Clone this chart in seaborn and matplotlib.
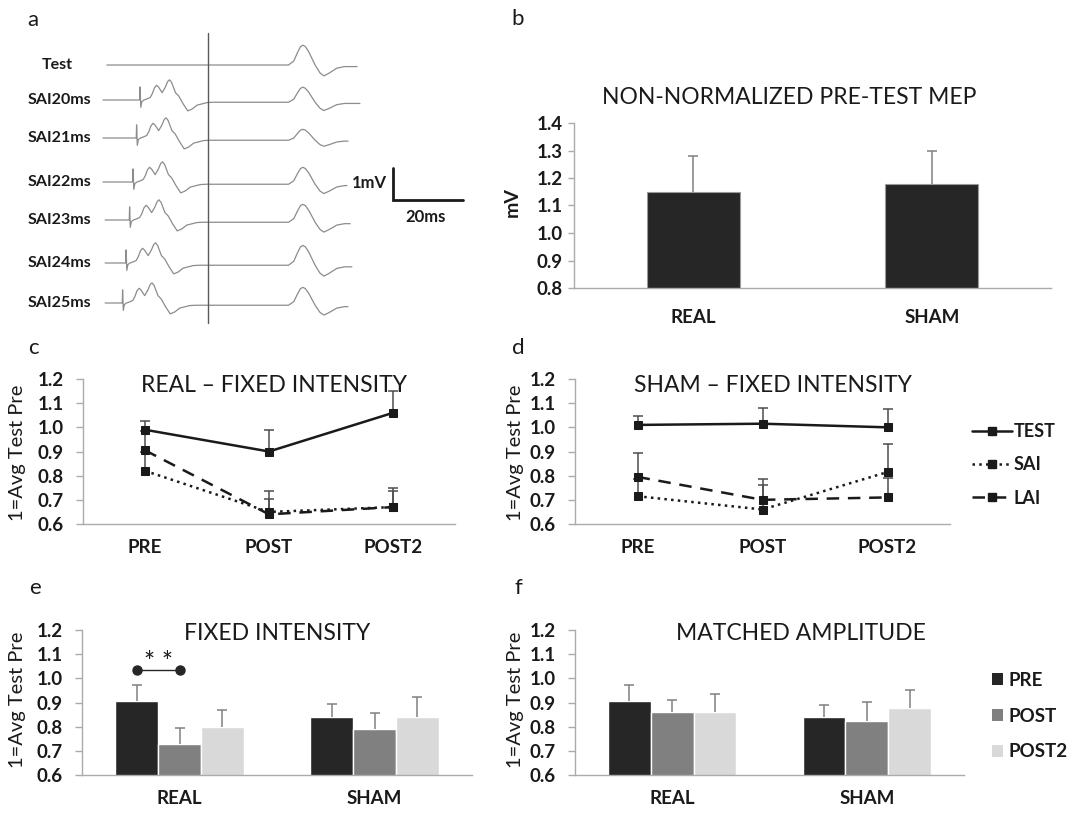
import numpy as np
import pandas as pd
import matplotlib.pyplot as plt
from matplotlib.lines import Line2D
from matplotlib.patches import Patch
from matplotlib.container import BarContainer
import seaborn as sns

# ---------------- data ----------------
# a: example EMG traces (time in ms from the TMS pulse, amplitude in mV)
trace_labels = ['Test', 'SAI20ms', 'SAI21ms', 'SAI22ms', 'SAI23ms', 'SAI24ms', 'SAI25ms']
cond_onset = [None, -19.5, -20.5, -21.5, -22.5, -23.5, -24.5]
mep_amp = [0.62, 0.47, 0.34, 0.53, 0.56, 0.62, 0.56]
trace_start = [-28.9, -30.0, -30.0, -30.0, -29.4, -29.4, -29.4]
trace_end = [42.6, 43.4, 40.0, 39.7, 40.6, 41.1, 40.0]
# stimulus artifact + afferent volley, ms after the conditioning pulse
aff_t = [0.0, 0.1, 0.3, 0.6, 1.2, 2.0, 3.0, 3.6, 4.2, 4.8, 5.4, 6.4, 7.3, 8.0, 8.5,
         9.1, 10.2, 11.1, 12.4, 13.7, 15.0, 16.4, 19.3, 21.0]
aff_v = [0.0, 0.41, -0.23, -0.05, 0.0, 0.03, 0.08, 0.2, 0.38, 0.46, 0.4, 0.23, 0.4, 0.58, 0.63,
         0.55, 0.23, 0.13, -0.12, -0.34, -0.28, -0.16, -0.08, -0.07]
# MEP shape (peak = 1)
mep_t = [23.0, 24.5, 25.5, 26.4, 27.1, 27.8, 28.8, 30.6, 32.0, 33.1, 34.5, 36.8, 39.0]
mep_shape = [0.0, 0.2, 0.6, 0.92, 1.0, 0.93, 0.66, 0.0, -0.4, -0.55, -0.42, -0.16, -0.08]

# b: non-normalized pre-test MEP (mV)
groups = ['REAL', 'SHAM']
mep_pre = [1.15, 1.18]
mep_pre_err = [0.13, 0.12]

# c, d: normalized to average test pre
timepoints = ['PRE', 'POST', 'POST2']
series = ['TEST', 'SAI', 'LAI']
real_test = [0.99, 0.90, 1.06]
real_test_err = [0.035, 0.09, 0.09]
real_sai = [0.82, 0.65, 0.67]
real_sai_err = [0.08, 0.055, 0.065]
real_lai = [0.905, 0.64, 0.67]
real_lai_err = [0.08, 0.095, 0.08]
sham_test = [1.01, 1.015, 1.0]
sham_test_err = [0.035, 0.065, 0.075]
sham_sai = [0.715, 0.66, 0.815]
sham_sai_err = [0.07, 0.10, 0.115]
sham_lai = [0.795, 0.70, 0.71]
sham_lai_err = [0.10, 0.085, 0.08]

# e: fixed intensity, f: matched amplitude (REAL, SHAM)
fixed_pre = [0.905, 0.84]
fixed_pre_err = [0.067, 0.053]
fixed_post = [0.728, 0.789]
fixed_post_err = [0.068, 0.066]
fixed_post2 = [0.797, 0.841]
fixed_post2_err = [0.072, 0.083]
matched_pre = [0.905, 0.84]
matched_pre_err = [0.066, 0.051]
matched_post = [0.86, 0.824]
matched_post_err = [0.049, 0.078]
matched_post2 = [0.861, 0.877]
matched_post2_err = [0.073, 0.076]

# ---------------- style ----------------
sns.set_style('white')
plt.rcParams['font.family'] = ['Lato', 'DejaVu Sans']
plt.rcParams['text.color'] = '#1a1a1a'

W, H = 1067, 814
fig = plt.figure(figsize=(W / 100, H / 100), dpi=100)

def px_axes(x0, y0, x1, y1):
    return fig.add_axes([x0 / W, 1 - y1 / H, (x1 - x0) / W, (y1 - y0) / H])

def px_text(x, y, s, **kw):
    fig.text(x / W, 1 - y / H, s, **kw)

AX_GRAY = '#ababab'
TICK_FS = 13.5
TITLE_FS = 16.5
time_colors = {'PRE': '#262626', 'POST': '#808080', 'POST2': '#d9d9d9'}

def up_err(ax, xs, ys, errs, color, z):
    # plus-only error bars with a cap on top (Excel style)
    tops = [y + e for y, e in zip(ys, errs)]
    ax.vlines(xs, ys, tops, color=color, lw=1.1, zorder=z)
    ax.plot(xs, tops, ls='none', marker='_', markersize=7, mew=1.1, color=color, zorder=z)

def style_axes(ax, labels, ylim, yticks, ypad=9):
    n = len(labels)
    sns.despine(ax=ax)
    for s in ['left', 'bottom']:
        ax.spines[s].set_color(AX_GRAY)
        ax.spines[s].set_linewidth(1)
    ax.set_xlim(-0.5, n - 0.5)
    ax.set_ylim(*ylim)
    ax.set_yticks(yticks)
    ax.set_yticklabels([f'{v:.1f}' for v in yticks])
    ax.set_xticks(range(n))
    ax.set_xticklabels(labels)
    ax.set_xticks([i - 0.5 for i in range(n + 1)], minor=True)
    ax.tick_params(axis='x', which='major', length=0, pad=11, labelsize=TICK_FS)
    ax.tick_params(axis='x', which='minor', length=5, color=AX_GRAY, width=1, direction='out')
    ax.tick_params(axis='y', length=5, color=AX_GRAY, width=1, direction='out',
                   labelsize=TICK_FS, pad=ypad, left=True)
    for lab in ax.get_xticklabels() + ax.get_yticklabels():
        lab.set_fontweight('bold')
        lab.set_color('#1a1a1a')
    ax.set_xlabel('')
    ax.set_ylabel('')
    ax.grid(False)

def bar_panel(ax, values, errs):
    df = pd.DataFrame({
        'group': groups * 3,
        'time': [t for t in timepoints for _ in groups],
        'value': values[0] + values[1] + values[2],
    })
    sns.barplot(data=df, x='group', y='value', hue='time', order=groups, hue_order=timepoints,
                palette=time_colors, width=0.66, saturation=1, errorbar=None, legend=False, ax=ax)
    bars = [c for c in ax.containers if isinstance(c, BarContainer)]
    centers = {}
    for k, cont in enumerate(bars):
        xs = [p.get_x() + p.get_width() / 2 for p in cont.patches]
        ys = [p.get_height() for p in cont.patches]
        up_err(ax, xs, ys, errs[k], '#808080', 3)
        centers[timepoints[k]] = xs
    style_axes(ax, groups, (0.6, 1.2), np.arange(0.6, 1.21, 0.1))
    return centers

def line_panel(ax, vals, errs):
    df = pd.DataFrame({
        'pos': list(range(3)) * 3,
        'series': [s for s in series for _ in timepoints],
        'value': vals[0] + vals[1] + vals[2],
    })
    for v, e in zip(vals, errs):
        up_err(ax, range(3), v, e, '#4d4d4d', 1)
    sns.lineplot(data=df, x='pos', y='value', hue='series', style='series',
                 palette={s: '#1a1a1a' for s in series},
                 dashes={'TEST': '', 'SAI': (1, 1.7), 'LAI': (5, 3.5)},
                 markers={s: 's' for s in series}, markersize=5.5, linewidth=1.8,
                 markeredgecolor='#1a1a1a', sort=False, legend=False, ax=ax, zorder=2)
    style_axes(ax, timepoints, (0.6, 1.2), np.arange(0.6, 1.21, 0.1))

# ---------------- a: traces ----------------
PX_MS, PX_MV, T0 = 3.5, 32.0, 208
ax_a = px_axes(0, 0, 480, 330)
ax_a.set_xlim(-T0 / PX_MS, (480 - T0) / PX_MS)
ax_a.set_ylim(-330 / PX_MV, 0)
ax_a.axis('off')
row_px = [65, 100, 138, 182, 220, 263, 303]
for i, name in enumerate(trace_labels):
    base = -row_px[i] / PX_MV
    amp = mep_amp[i]
    if cond_onset[i] is None:
        t = [trace_start[i]] + mep_t + [trace_end[i]]
        v = [0.0] + [amp * s for s in mep_shape] + [amp * mep_shape[-1]]
    else:
        off = aff_v[-1]
        t = [trace_start[i]] + [cond_onset[i] + x for x in aff_t] + mep_t + [trace_end[i]]
        v = [0.0] + aff_v + [off + amp * s for s in mep_shape] + [off + amp * mep_shape[-1]]
    ax_a.plot(t, base + np.array(v), color='#8c8c8c', lw=0.9, solid_joinstyle='round')
    px_text(42 if i == 0 else 28, row_px[i], name, fontsize=11.5, fontweight='bold', va='center')
ax_a.plot([0, 0], [-33 / PX_MV, -323 / PX_MV], color='#595959', lw=1)
sb_x, sb_y = (393 - T0) / PX_MS, -168 / PX_MV
ax_a.plot([sb_x, sb_x, sb_x + 20], [sb_y, sb_y - 1, sb_y - 1], color='#1a1a1a', lw=2,
          solid_joinstyle='miter')
px_text(387, 183, '1mV', fontsize=12, fontweight='bold', ha='right', va='center')
px_text(426, 217, '20ms', fontsize=12, fontweight='bold', ha='center', va='center')

# ---------------- b ----------------
ax_b = px_axes(574, 123, 1051, 288)
sns.barplot(x=groups, y=mep_pre, color='#262626', width=0.39, saturation=1,
            edgecolor='#9a9a9a', linewidth=0.8, errorbar=None, ax=ax_b)
up_err(ax_b, range(2), mep_pre, mep_pre_err, '#808080', 3)
style_axes(ax_b, groups, (0.8, 1.4), np.arange(0.8, 1.41, 0.1), ypad=4)
ax_b.tick_params(axis='y', length=4)
ax_b.tick_params(axis='x', which='major', pad=15)
px_text(789, 97, 'NON-NORMALIZED PRE-TEST MEP', fontsize=TITLE_FS, ha='center', va='center')
px_text(512, 202, 'mV', fontsize=14, fontweight='bold', rotation=90, ha='center', va='center')

# ---------------- c, d ----------------
ax_c = px_axes(83, 379, 455, 524)
line_panel(ax_c, [real_test, real_sai, real_lai], [real_test_err, real_sai_err, real_lai_err])
ax_d = px_axes(575, 379, 950, 524)
line_panel(ax_d, [sham_test, sham_sai, sham_lai], [sham_test_err, sham_sai_err, sham_lai_err])
px_text(274, 386, 'REAL \u2013 FIXED INTENSITY', fontsize=TITLE_FS, ha='center', va='center')
px_text(773, 386, 'SHAM \u2013 FIXED INTENSITY', fontsize=TITLE_FS, ha='center', va='center')

line_handles = [
    Line2D([], [], color='#1a1a1a', lw=1.8, ls='-', marker='s', markersize=5.5),
    Line2D([], [], color='#1a1a1a', lw=1.8, ls=(0, (1, 1.7)), marker='s', markersize=5.5),
    Line2D([], [], color='#1a1a1a', lw=1.8, ls=(0, (5, 3.5)), marker='s', markersize=5.5),
]
fig.legend(line_handles, series, loc='center left', bbox_to_anchor=(972 / W, 1 - 465 / H),
           frameon=False, handlelength=2.2, handletextpad=0.12, labelspacing=0.9,
           borderpad=0, borderaxespad=0, numpoints=1,
           prop={'family': ['Lato', 'DejaVu Sans'], 'weight': 'bold', 'size': 13})

# ---------------- e, f ----------------
ax_e = px_axes(82, 630, 472, 775)
cen = bar_panel(ax_e, [fixed_pre, fixed_post, fixed_post2],
                [fixed_pre_err, fixed_post_err, fixed_post2_err])
x1, x2 = cen['PRE'][0], cen['POST'][0]
ax_e.plot([x1, x2], [1.034, 1.034], color='#262626', lw=1, marker='o', markersize=6.5)
ax_e.text((x1 + x2) / 2, 1.03, '* *', fontsize=19, ha='center', va='baseline')
ax_f = px_axes(575, 630, 964, 775)
bar_panel(ax_f, [matched_pre, matched_post, matched_post2],
          [matched_pre_err, matched_post_err, matched_post2_err])
px_text(277, 633, 'FIXED INTENSITY', fontsize=TITLE_FS, ha='center', va='center')
px_text(801, 634, 'MATCHED AMPLITUDE', fontsize=TITLE_FS, ha='center', va='center')

bar_handles = [Patch(facecolor=time_colors[t], edgecolor='none') for t in timepoints]
fig.legend(bar_handles, timepoints, loc='center left', bbox_to_anchor=(992 / W, 1 - 716 / H),
           frameon=False, handlelength=0.6, handleheight=0.6, handletextpad=0.3,
           labelspacing=1.0, borderpad=0, borderaxespad=0,
           prop={'family': ['Lato', 'DejaVu Sans'], 'weight': 'bold', 'size': 13.5})

# y labels and panel letters
for (x, y) in [(18, 453), (515, 453), (18, 700), (515, 700)]:
    px_text(x, y, '1=Avg Test Pre', fontsize=14.5, rotation=90, ha='center', va='center')
for letter, (x, y) in zip('abcdef', [(33, 20), (518, 19), (33, 348), (518, 348), (35, 588), (518, 588)]):
    px_text(x, y, letter, fontsize=16, ha='center', va='center')

fig.savefig('out.png', dpi=100)
